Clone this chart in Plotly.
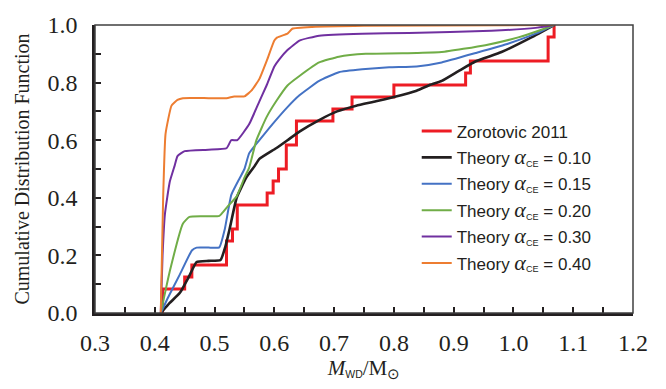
import plotly.graph_objects as go

# Zorotovic 2011 observed CDF (step)
zor_x = [0.410, 0.413, 0.450, 0.462, 0.520, 0.530, 0.538, 0.588, 0.598, 0.607,
         0.620, 0.637, 0.698, 0.730, 0.800, 0.920, 0.928, 1.058, 1.068]
zor_y = [0.000, 0.083, 0.125, 0.167, 0.250, 0.292, 0.375, 0.417, 0.458, 0.500,
         0.583, 0.667, 0.708, 0.750, 0.792, 0.833, 0.875, 0.958, 1.000]

a10_x = [0.410, 0.425, 0.442, 0.458, 0.470, 0.490, 0.510, 0.518, 0.525, 0.537, 0.553,
         0.567, 0.575, 0.603, 0.622, 0.642, 0.675, 0.705, 0.737, 0.770, 0.800, 0.838,
         0.858, 0.880, 0.908, 0.937, 0.980, 1.030, 1.068]
a10_y = [0.000, 0.035, 0.070, 0.130, 0.177, 0.181, 0.184, 0.230, 0.290, 0.400, 0.470,
         0.510, 0.535, 0.572, 0.600, 0.630, 0.670, 0.700, 0.720, 0.735, 0.750, 0.772,
         0.790, 0.806, 0.840, 0.874, 0.906, 0.957, 1.000]

a15_x = [0.410, 0.422, 0.442, 0.462, 0.470, 0.490, 0.508, 0.517, 0.528, 0.542, 0.550,
         0.558, 0.575, 0.597, 0.622, 0.642, 0.675, 0.708, 0.747, 0.792, 0.838, 0.880,
         0.937, 0.992, 1.037, 1.068]
a15_y = [0.000, 0.053, 0.134, 0.217, 0.227, 0.227, 0.228, 0.290, 0.410, 0.468, 0.500,
         0.555, 0.600, 0.656, 0.715, 0.756, 0.806, 0.836, 0.846, 0.853, 0.856, 0.870,
         0.903, 0.936, 0.970, 1.000]

a20_x = [0.410, 0.425, 0.447, 0.458, 0.480, 0.508, 0.522, 0.537, 0.550, 0.558, 0.570,
         0.587, 0.603, 0.622, 0.642, 0.675, 0.708, 0.753, 0.838, 0.880, 0.953, 1.008,
         1.042, 1.068]
a20_y = [0.000, 0.144, 0.310, 0.334, 0.336, 0.337, 0.370, 0.405, 0.470, 0.505, 0.600,
         0.680, 0.735, 0.790, 0.823, 0.870, 0.890, 0.900, 0.903, 0.906, 0.930, 0.957,
         0.980, 1.000]

a30_x = [0.410, 0.413, 0.417, 0.425, 0.433, 0.438, 0.450, 0.490, 0.520, 0.528, 0.538,
         0.558, 0.575, 0.587, 0.600, 0.608, 0.622, 0.642, 0.675, 0.747, 0.825, 0.963,
         1.037, 1.068]
a30_y = [0.000, 0.200, 0.344, 0.455, 0.510, 0.545, 0.562, 0.567, 0.572, 0.600, 0.600,
         0.656, 0.735, 0.790, 0.856, 0.880, 0.913, 0.946, 0.963, 0.970, 0.972, 0.980,
         0.990, 1.000]

a40_x = [0.410, 0.414, 0.418, 0.428, 0.438, 0.447, 0.490, 0.520, 0.533, 0.550, 0.562,
         0.575, 0.588, 0.600, 0.605, 0.622, 0.630, 0.663, 0.750, 1.068]
a40_y = [0.000, 0.400, 0.622, 0.720, 0.740, 0.746, 0.746, 0.746, 0.752, 0.752, 0.773,
         0.813, 0.880, 0.946, 0.957, 0.970, 0.987, 0.993, 0.997, 1.000]

SERIF = "Liberation Serif, Times New Roman, serif"
SANS = "Liberation Sans, Arial, sans-serif"

alpha = "<span style=\"font-family:Liberation Serif;font-size:22px\"><i>α</i></span>"
sub_ce = "<span style=\"font-size:13px\"><sub>CE</sub></span>"
series = [
    ("Zorotovic 2011", zor_x, zor_y, "#ED1C24", 3.0, "hv"),
    (f"Theory {alpha}{sub_ce} = 0.10", a10_x, a10_y, "#231F20", 2.6, "spline"),
    (f"Theory {alpha}{sub_ce} = 0.15", a15_x, a15_y, "#4472C4", 2.0, "spline"),
    (f"Theory {alpha}{sub_ce} = 0.20", a20_x, a20_y, "#70AD47", 2.0, "spline"),
    (f"Theory {alpha}{sub_ce} = 0.30", a30_x, a30_y, "#7030A0", 2.0, "spline"),
    (f"Theory {alpha}{sub_ce} = 0.40", a40_x, a40_y, "#ED7D31", 2.0, "spline"),
]

fig = go.Figure()
for i, (name, xs, ys, col, w, shape) in enumerate(series):
    line = dict(color=col, width=w, shape=shape)
    if shape == "spline":
        line["smoothing"] = 0.4
    fig.add_trace(go.Scatter(x=xs, y=ys, mode="lines", name=name, line=line,
                             legendgroup=f"g{i}"))

axis_common = dict(
    ticks="inside", ticklen=6, tickwidth=1.5, tickcolor="#231F20",
    showline=True, linewidth=2.5, linecolor="#231F20", mirror=False,
    showgrid=False, zeroline=False,
    tickfont=dict(family=SERIF, size=24, color="#231F20"),
)
fig.update_xaxes(range=[0.3, 1.2], dtick=0.1, tick0=0.3, tickformat=".1f",
                 ticklabelstandoff=6,
                 minor=dict(dtick=0.05, ticks="inside", ticklen=6, tickwidth=1.5,
                            tickcolor="#231F20", showgrid=False),
                 title=dict(text="<i>M</i><span style=\"font-family:Liberation Sans;font-size:15px\"><sub>WD</sub></span>/M<sub>⊙</sub>",
                            font=dict(family=SERIF, size=21, color="#231F20"),
                            standoff=0),
                 **axis_common)
fig.update_yaxes(range=[0, 1.0], dtick=0.2, tickformat=".1f",
                 ticklabelstandoff=10,
                 minor=dict(dtick=0.1, ticks="inside", ticklen=6, tickwidth=1.5,
                            tickcolor="#231F20", showgrid=False),
                 title=dict(text="Cumulative Distribution Function",
                            font=dict(family=SERIF, size=20, color="#231F20"),
                            standoff=13),
                 **axis_common)

fig.add_shape(type="rect", xref="paper", yref="paper", x0=0, x1=1, y0=0, y1=1,
              line=dict(color="#404040", width=1.5), layer="above")

fig.update_layout(
    width=666, height=389,
    margin=dict(l=95, r=33, t=14, b=76),
    plot_bgcolor="white", paper_bgcolor="white",
    legend=dict(x=0.598, y=0.693, xanchor="left", yanchor="top",
                font=dict(family=SANS, size=17, color="#231F20"),
                bgcolor="rgba(0,0,0,0)", tracegroupgap=1.3),
    showlegend=True,
)

fig.write_html("out.html")
